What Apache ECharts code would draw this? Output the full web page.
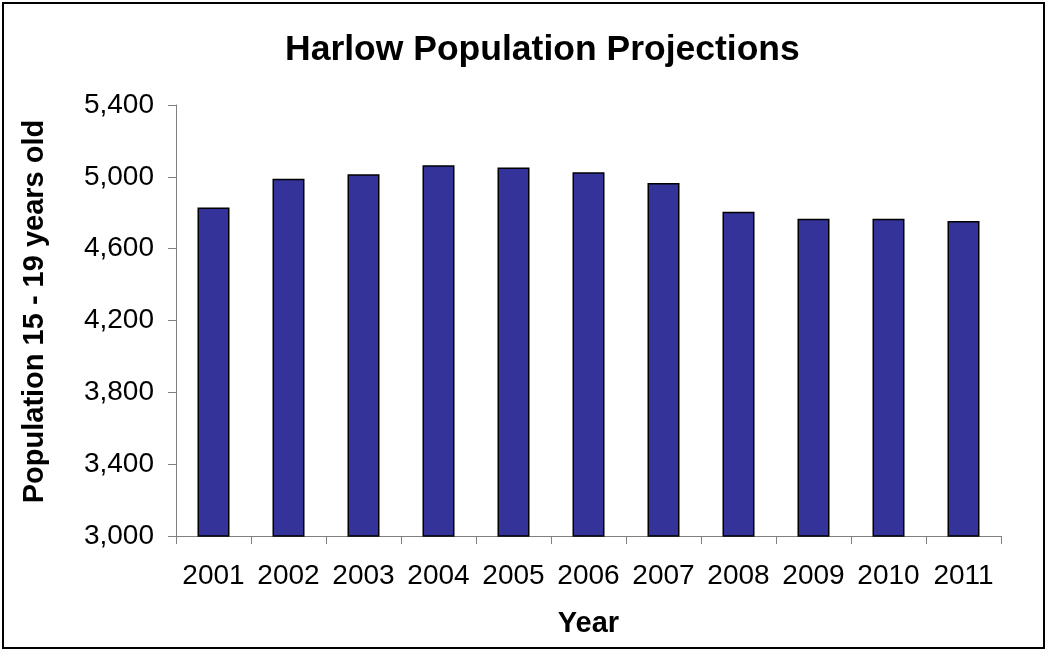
<!DOCTYPE html>
<html>
<head>
<meta charset="utf-8">
<title>Harlow Population Projections</title>
<script src="https://cdn.jsdelivr.net/npm/echarts@6/dist/echarts.min.js"></script>
<style>
  html, body { margin: 0; padding: 0; background: #ffffff; }
  #chart { width: 1048px; height: 652px; }
</style>
</head>
<body>
<div id="chart"></div>
<script>
// Projected population aged 15-19 in Harlow, by year
const years = ['2001', '2002', '2003', '2004', '2005', '2006', '2007', '2008', '2009', '2010', '2011'];
const population = [4829, 4989, 5015, 5065, 5052, 5026, 4965, 4805, 4766, 4766, 4754];
const yTicks = { min: 3000, max: 5400, interval: 400 };

const FONT = '"Liberation Sans", Arial, sans-serif';
const chart = echarts.init(document.getElementById('chart'), null, { renderer: 'canvas' });

chart.setOption({
  backgroundColor: '#ffffff',
  animation: false,
  title: {
    text: 'Harlow Population Projections',
    left: 280,
    top: 27,
    textStyle: { fontFamily: FONT, fontSize: 35.5, fontWeight: 'bold', color: '#000000' }
  },
  graphic: [{
    type: 'rect',
    shape: { x: 3, y: 3, width: 1041, height: 645 },
    style: { fill: 'none', stroke: '#000000', lineWidth: 2 },
    silent: true
  }],
  grid: { left: 176, right: 47, top: 105, bottom: 116, containLabel: false },
  xAxis: {
    type: 'category',
    data: years,
    name: 'Year',
    nameLocation: 'middle',
    nameGap: 73,
    nameTextStyle: { fontFamily: FONT, fontSize: 29, fontWeight: 'bold', color: '#000000', verticalAlign: 'top' },
    axisLine: { show: true, lineStyle: { color: '#808080', width: 1 } },
    axisTick: { show: true, alignWithLabel: false, length: 8, lineStyle: { color: '#808080' } },
    axisLabel: { fontFamily: FONT, fontSize: 28, color: '#000000', margin: 26, interval: 0 },
    splitLine: { show: false }
  },
  yAxis: {
    type: 'value',
    min: yTicks.min,
    max: yTicks.max,
    interval: yTicks.interval,
    name: 'Population 15 - 19 years old',
    nameLocation: 'middle',
    nameGap: 127,
    nameTextStyle: {
      fontFamily: FONT, fontSize: 29, fontWeight: 'bold', color: '#000000',
      padding: [0, 0, 0, 18]
    },
    axisLine: { show: true, lineStyle: { color: '#808080', width: 1 } },
    axisTick: { show: true, length: 8, lineStyle: { color: '#808080' } },
    axisLabel: {
      fontFamily: FONT, fontSize: 28, color: '#000000', margin: 22,
      formatter: v => v.toLocaleString('en-US')
    },
    splitLine: { show: false }
  },
  series: [{
    type: 'bar',
    data: population,
    barWidth: 32,
    itemStyle: { color: '#333399', borderColor: '#000000', borderWidth: 1.5 }
  }]
});
</script>
</body>
</html>
